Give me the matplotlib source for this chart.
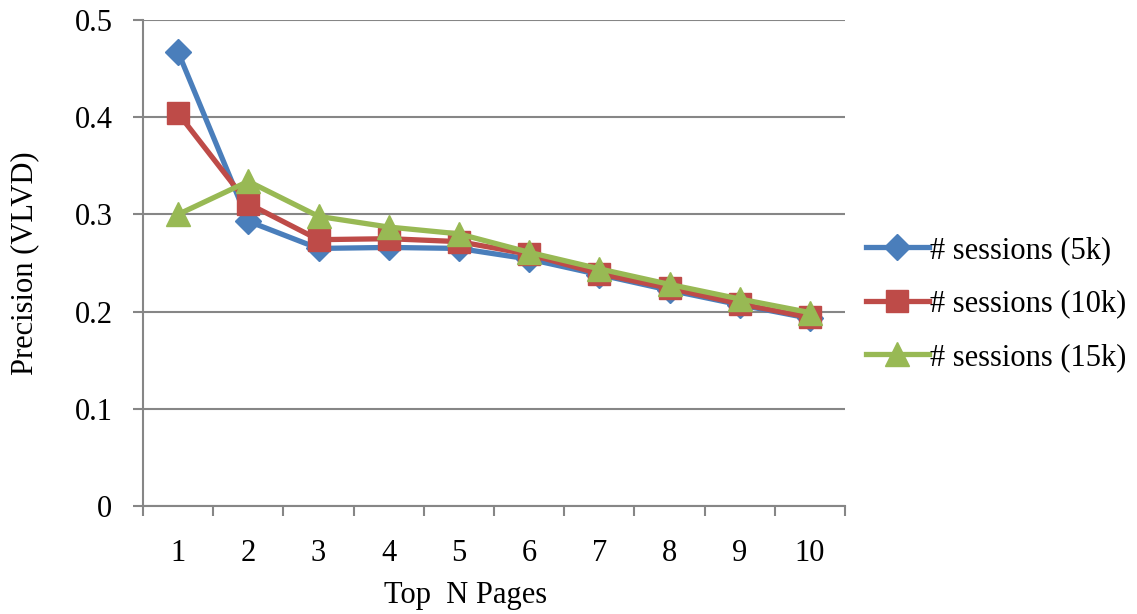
import matplotlib.pyplot as plt
import numpy as np

plt.rcParams['font.family'] = ['Liberation Serif', 'DejaVu Serif']

pages = [1, 2, 3, 4, 5, 6, 7, 8, 9, 10]
prec_5k = [0.467, 0.293, 0.265, 0.266, 0.265, 0.254, 0.238, 0.222, 0.207, 0.193]
prec_10k = [0.404, 0.311, 0.274, 0.275, 0.272, 0.259, 0.239, 0.224, 0.208, 0.194]
prec_15k = [0.300, 0.334, 0.298, 0.287, 0.280, 0.261, 0.244, 0.228, 0.213, 0.199]
series_names = ['# sessions (5k)', '# sessions (10k)', '# sessions (15k)']

GRID = '#868686'
FS = 22

fig = plt.figure(figsize=(11.37, 6.14), dpi=100)
ax = fig.add_axes([143 / 1137, 1 - 506 / 614, (845 - 143) / 1137, (506 - 20) / 614])

ax.plot(pages, prec_5k, color='#4A7EBB', lw=3.8, marker='D', ms=13, label=series_names[0])
ax.plot(pages, prec_10k, color='#BE4B48', lw=3.8, marker='s', ms=16, label=series_names[1])
ax.plot(pages, prec_15k, color='#98B954', lw=3.8, marker='^', ms=17, label=series_names[2])

ax.set_xlim(0.5, 10.5)
ax.set_ylim(0, 0.5)
ax.set_yticks(np.arange(0, 0.51, 0.1))
ax.set_yticklabels(['0', '0.1', '0.2', '0.3', '0.4', '0.5'])
ax.yaxis.grid(True, color=GRID, lw=1.5)
ax.set_axisbelow(True)

# category labels sit between the tick marks
ax.set_xticks(pages)
ax.set_xticklabels([str(p) for p in pages])
ax.set_xticks(np.arange(0.5, 11, 1), minor=True)
ax.tick_params(axis='x', which='major', length=0, pad=24, labelsize=FS)
ax.tick_params(axis='x', which='minor', length=7, width=1.5, color=GRID, direction='out')
ax.tick_params(axis='y', length=7, width=1.5, color=GRID, direction='out', pad=15, labelsize=FS)

for side in ['top', 'right']:
    ax.spines[side].set_visible(False)
for side in ['left', 'bottom']:
    ax.spines[side].set_color(GRID)
    ax.spines[side].set_linewidth(1.5)

ax.set_xlabel('Top  N Pages', fontsize=FS, va='center')
ax.xaxis.set_label_coords(0.46, -0.185)
ax.set_ylabel('Precision (VLVD)', fontsize=FS, va='center')
ax.yaxis.set_label_coords(-0.168, 0.5)

ax.legend(loc='center left', bbox_to_anchor=(1.03, 0.4156), frameon=False, fontsize=FS,
          borderpad=0, borderaxespad=0, handlelength=2.05, handletextpad=0.05,
          labelspacing=0.8)

fig.savefig('out.png', dpi=100)
